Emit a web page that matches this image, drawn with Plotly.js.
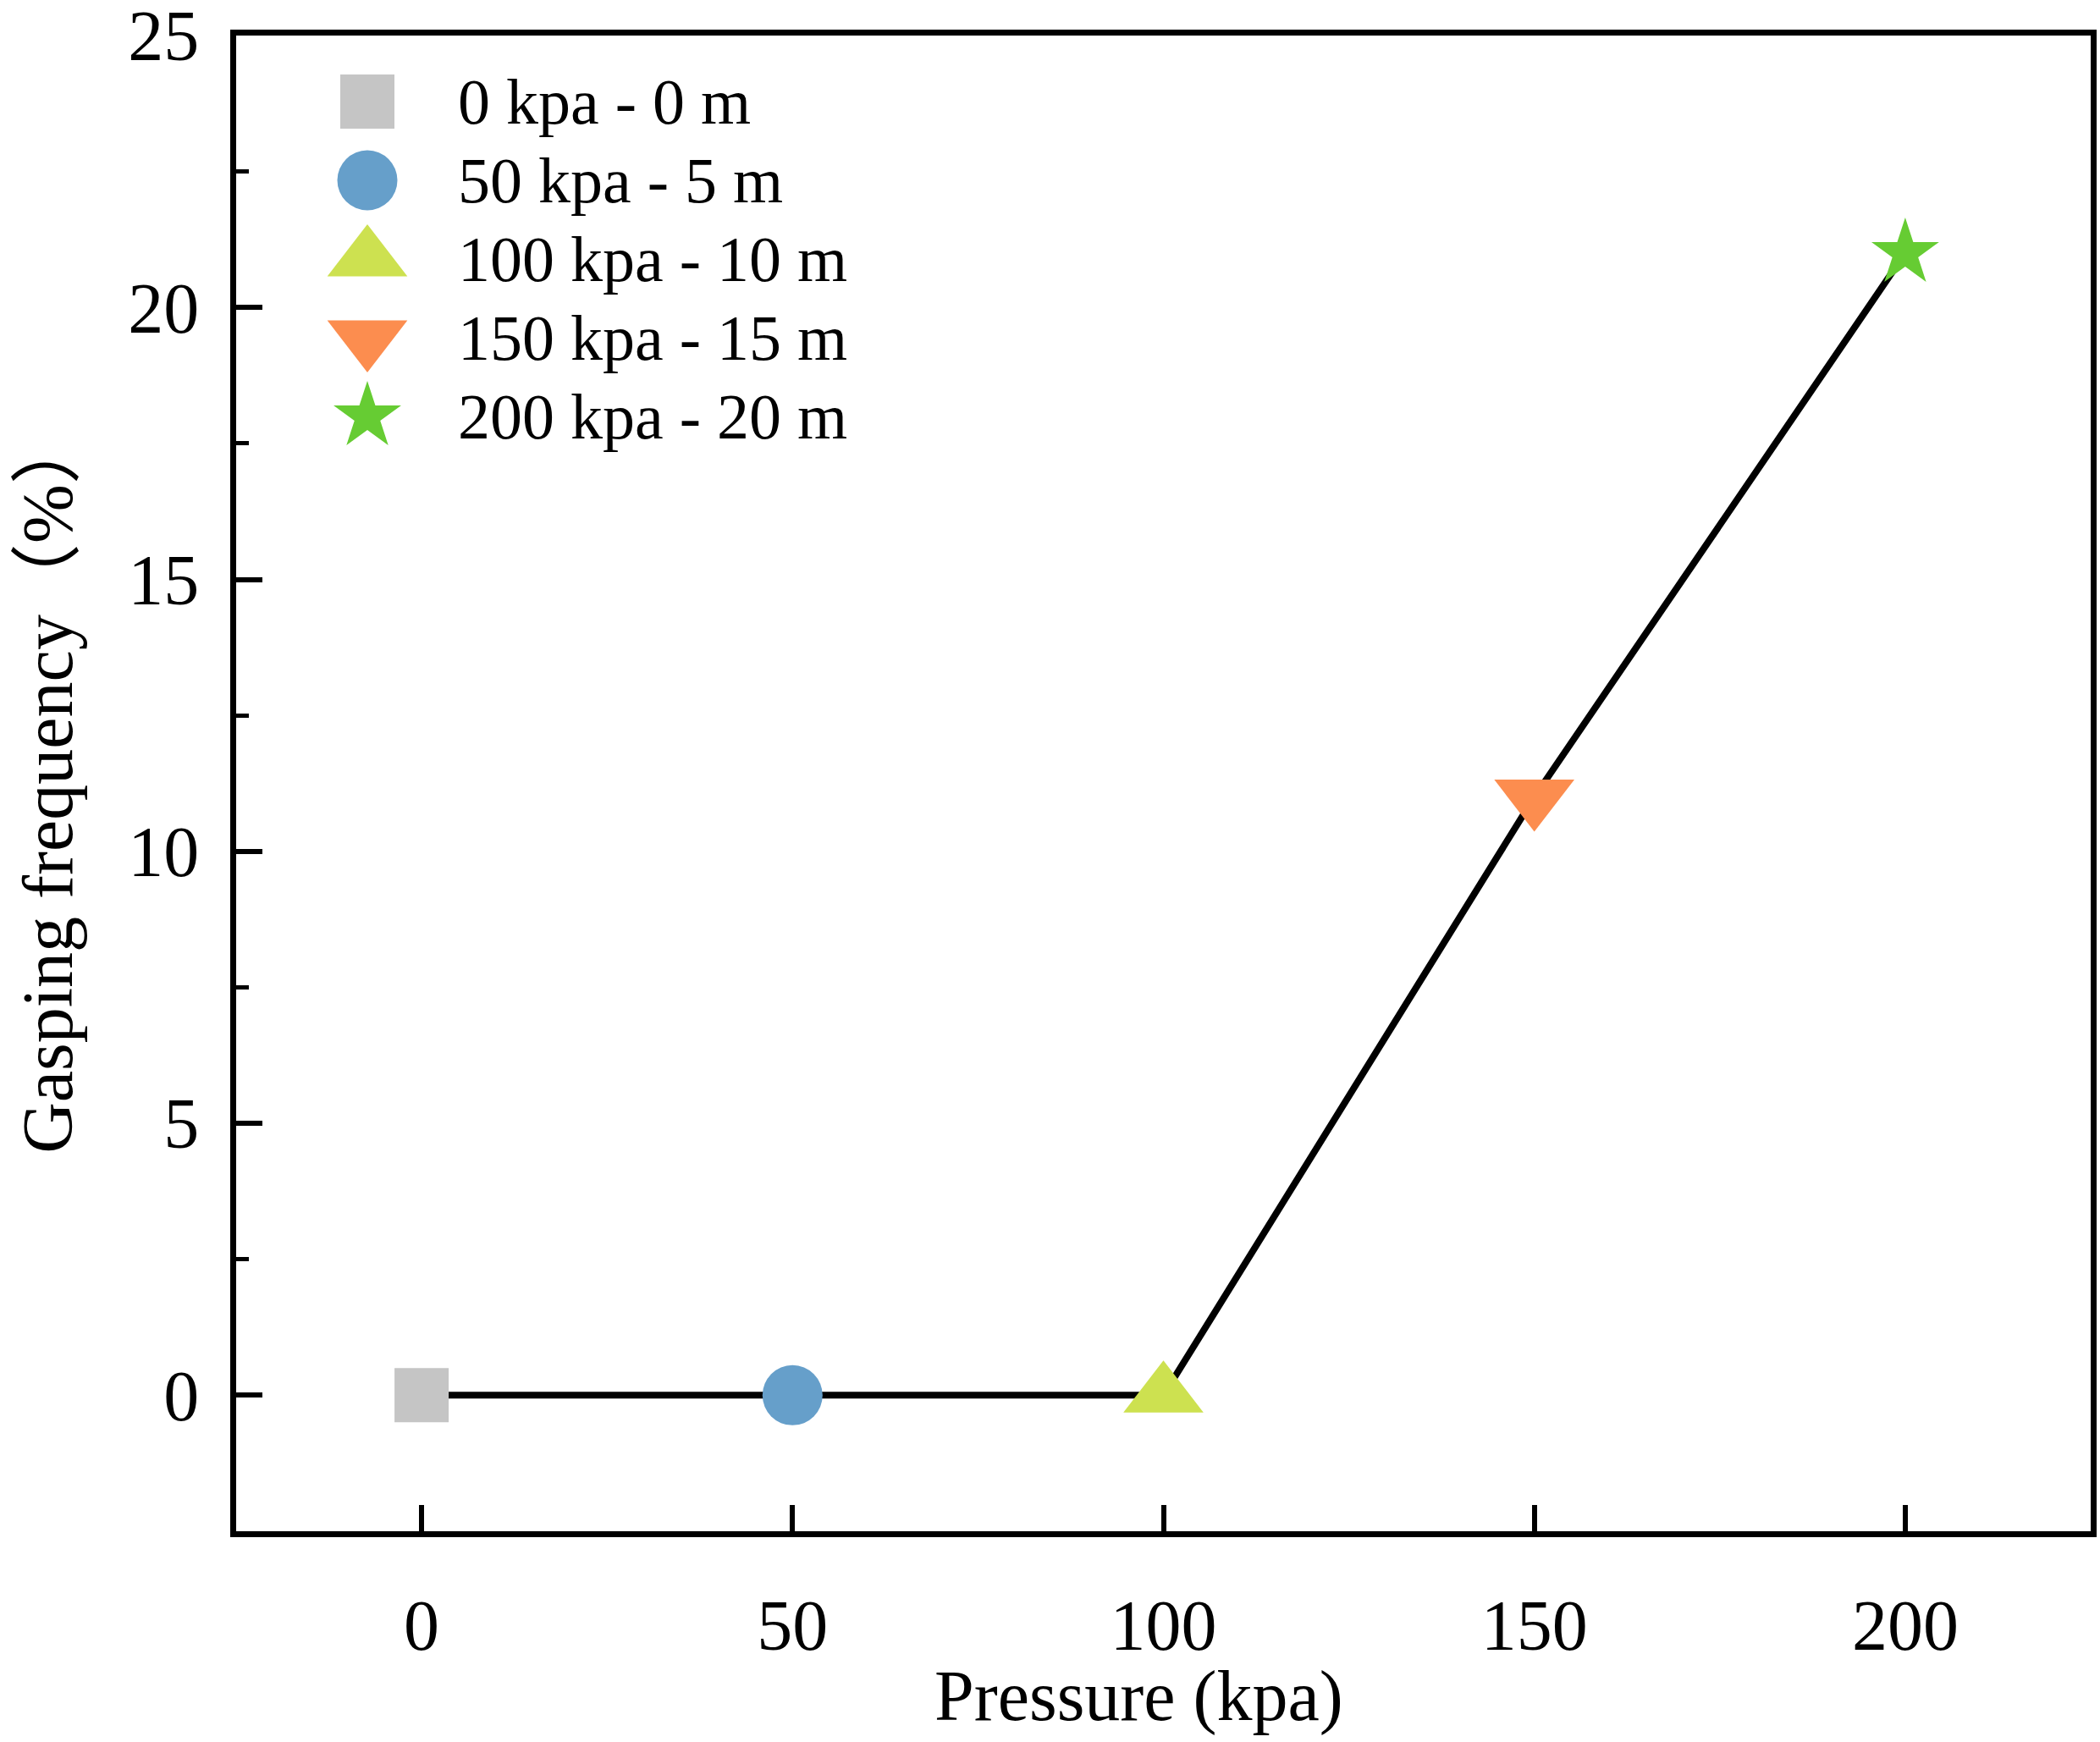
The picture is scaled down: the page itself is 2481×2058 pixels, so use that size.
<!DOCTYPE html>
<html>
<head>
<meta charset="utf-8">
<script src="https://cdn.plot.ly/plotly-3.0.1.min.js"></script>
<style>html,body{margin:0;padding:0;background:#fff;}</style>
</head>
<body>
<div id="chart" style="width:2481px;height:2058px;"></div>
<script>
// ---- data ----
var pressure = [0, 50, 100, 150, 200];
var gasping = [0, 0, 0, 11, 21];
var seriesLabels = ['0 kpa - 0 m', '50 kpa - 5 m', '100 kpa - 10 m', '150 kpa - 15 m', '200 kpa - 20 m'];
var xTicks = [0, 50, 100, 150, 200];
var yTicks = [0, 5, 10, 15, 20, 25];
var yMinorTicks = [2.5, 7.5, 12.5, 17.5, 22.5];
var xTitle = 'Pressure (kpa)';
var yTitle = 'Gasping frequency（%）';

// ---- styles ----
var symbols = ['square', 'circle', 'triangle-up', 'triangle-down', 'star'];
var colors = ['#C5C5C5', '#669FCA', '#CDE150', '#FC8D4F', '#66CC33'];
var sizes = [64, 71, 82, 82, 60];

var W = 2481, H = 2058;
var M = {l: 279, r: 11, t: 42, b: 249};
var PW = W - M.l - M.r, PH = H - M.t - M.b;
var FONT = 'Liberation Serif, "Times New Roman", serif';
var FONT_CJK = 'Liberation Serif, "Times New Roman", "Noto Sans CJK SC", serif';

// pixel -> paper helpers (layout only)
function px2paperX(px) { return (px - M.l) / PW; }
function px2paperY(py) { return (H - M.b - py) / PH; }

// legend layout (pixel coordinates on the page)
var legMarkerX = 434, legTextX = 539, legTop = 120, legStep = 93;
var legY = seriesLabels.map(function (_, i) { return legTop + i * legStep; });
var legX = seriesLabels.map(function () { return legMarkerX; });

var traces = [
  {
    x: pressure, y: gasping, mode: 'lines', type: 'scatter',
    line: {color: '#000', width: 8}, showlegend: false, hoverinfo: 'skip'
  },
  {
    x: pressure, y: gasping, mode: 'markers', type: 'scatter',
    text: seriesLabels,
    marker: {symbol: symbols, color: colors, size: sizes, opacity: 1, line: {width: 0}},
    showlegend: false
  },
  {
    x: legX, y: legY, mode: 'markers', type: 'scatter',
    xaxis: 'x2', yaxis: 'y2', text: seriesLabels,
    marker: {symbol: symbols, color: colors, size: sizes, opacity: 1, line: {width: 0}},
    showlegend: false, hoverinfo: 'skip'
  }
];

var annotations = seriesLabels.map(function (s, i) {
  return {
    xref: 'paper', yref: 'paper', x: px2paperX(legTextX), y: px2paperY(legY[i]),
    xanchor: 'left', yanchor: 'middle', showarrow: false,
    text: s, font: {family: FONT, size: 76, color: '#000'}
  };
});
// x axis title
annotations.push({
  xref: 'paper', yref: 'paper', x: px2paperX(1345), y: px2paperY(2004),
  xanchor: 'center', yanchor: 'middle', showarrow: false,
  text: xTitle, font: {family: FONT, size: 84, color: '#000'}
});

var layout = {
  width: W, height: H,
  margin: M,
  paper_bgcolor: '#fff', plot_bgcolor: '#fff',
  showlegend: false,
  font: {family: FONT, size: 84, color: '#000'},
  xaxis: {
    range: [-25, 225], tickvals: xTicks, ticktext: xTicks.map(String),
    ticks: 'inside', ticklen: 31, tickwidth: 6, tickcolor: '#000',
    showline: true, linewidth: 7, linecolor: '#000', mirror: true,
    showgrid: false, zeroline: false,
    tickfont: {family: FONT, size: 84, color: '#000'},
    ticklabelstandoff: 32, ticklabeloverflow: 'allow'
  },
  yaxis: {
    range: [-2.5, 25], tickvals: yTicks, ticktext: yTicks.map(String),
    ticks: 'inside', ticklen: 31, tickwidth: 6, tickcolor: '#000',
    minor: {tickvals: yMinorTicks, ticks: 'inside', ticklen: 15, tickwidth: 5, tickcolor: '#000', showgrid: false},
    showline: true, linewidth: 7, linecolor: '#000', mirror: true,
    showgrid: false, zeroline: false,
    tickfont: {family: FONT, size: 84, color: '#000'},
    ticklabelstandoff: 20, ticklabeloverflow: 'allow',
    title: {text: yTitle, font: {family: FONT_CJK, size: 84, color: '#000'}, standoff: 40}
  },
  xaxis2: {
    overlaying: 'x', range: [M.l, W - M.r], visible: false, fixedrange: true
  },
  yaxis2: {
    overlaying: 'y', range: [H - M.b, M.t], visible: false, fixedrange: true
  },
  annotations: annotations
};

Plotly.newPlot('chart', traces, layout, {displayModeBar: false, staticPlot: true});
</script>
</body>
</html>
